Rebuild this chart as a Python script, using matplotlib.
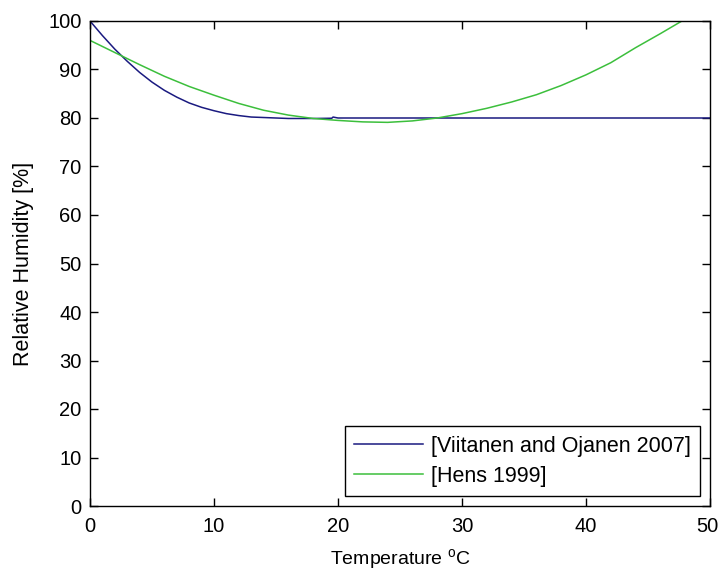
import numpy as np
import matplotlib
matplotlib.use('Agg')
import matplotlib.pyplot as plt
import matplotlib.transforms as mtransforms

plt.rcParams['font.family'] = ['Liberation Sans', 'DejaVu Sans']
plt.rcParams['mathtext.fontset'] = 'custom'
plt.rcParams['mathtext.rm'] = 'Liberation Sans'

# critical relative humidity for mould growth vs. temperature
t_viitanen = [0, 1, 2, 3, 4, 5, 6, 7, 8, 9, 10, 11, 12, 13, 14, 16, 18, 19.5, 19.6, 20, 50]
rh_viitanen = [100.0, 97.0, 94.2, 91.7, 89.4, 87.4, 85.7, 84.3, 83.1, 82.2, 81.5,
               80.9, 80.5, 80.2, 80.1, 79.9, 79.9, 79.95, 80.2, 80.0, 80.0]

t_hens = [0, 2, 4, 6, 8, 10, 12, 14, 16, 18, 20, 22, 24, 26, 28, 30, 32, 34, 36,
          38, 40, 42, 44, 46, 48, 50]
rh_hens = [96.0, 93.5, 91.0, 88.6, 86.5, 84.7, 83.0, 81.6, 80.6, 79.9, 79.5, 79.2,
           79.1, 79.4, 80.0, 80.9, 82.0, 83.3, 84.8, 86.7, 88.9, 91.4, 94.5, 97.4,
           100.4, 104.0]

x_ticks = np.arange(0, 51, 10)
y_ticks = np.arange(0, 101, 10)

fig = plt.figure(figsize=(7.19, 5.72), dpi=100)
ax = fig.add_axes([90 / 719, 66 / 572, 620 / 719, 485 / 572])

ax.plot(t_viitanen, rh_viitanen, color='#1a1a80', lw=1.1, label='[Viitanen and Ojanen 2007]')
ax.plot(t_hens, rh_hens, color='#3cbf3c', lw=1.1, label='[Hens 1999]')

ax.set_xlim(0, 50)
ax.set_ylim(0, 100)
ax.set_xticks(x_ticks)
ax.set_yticks(y_ticks)
ax.tick_params(direction='in', length=6, width=1, top=True, right=True, labelsize=14.5)
ax.tick_params(axis='x', pad=8)
ax.tick_params(axis='y', pad=6)
for s in ax.spines.values():
    s.set_linewidth(1.0)

# nudge the last x label so it stays inside the figure
last = ax.get_xticklabels()[-1]
last.set_transform(last.get_transform() +
                   mtransforms.ScaledTranslation(-0.03, 0, fig.dpi_scale_trans))

ax.set_xlabel('Temperature $^{\\rm o}$C', fontsize=14, labelpad=8)
ax.set_ylabel('Relative Humidity [%]', fontsize=15.5, labelpad=10)

leg = ax.legend(loc='lower right', fontsize=15.5, handlelength=3.2, handletextpad=0.35,
                borderaxespad=0.45, fancybox=False, framealpha=1, edgecolor='black',
                borderpad=0.45, labelspacing=0.4)
leg.get_frame().set_linewidth(1.0)

fig.savefig('out.png', dpi=100)
